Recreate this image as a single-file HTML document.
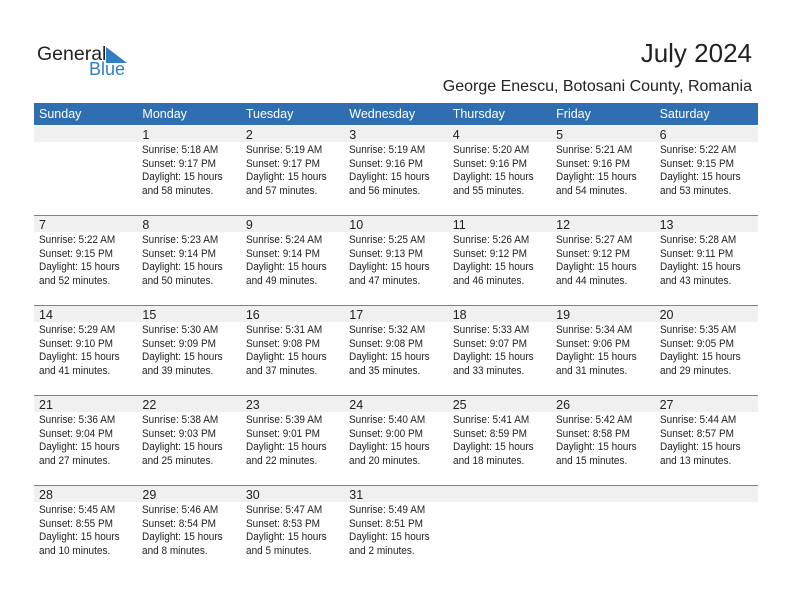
<!DOCTYPE html>
<html><head><meta charset="utf-8"><style>
body{margin:0;width:792px;height:612px;background:#fff;font-family:"Liberation Sans",sans-serif;position:relative;overflow:hidden}
.a{position:absolute}
.hdr{left:34px;top:103px;width:724px;height:22px;background:#2f6fb1}
.dn{color:#fff;font-size:12.5px;top:107px}
.strip{left:34px;width:724px;height:16px;background:#f0f0f0}
.line{left:34px;width:724px;height:1px;background:#6b86a8}
.cell{font-size:11px;line-height:13.5px;color:#222;width:110px;transform:scaleX(0.91);transform-origin:0 0;white-space:nowrap}
.num{font-size:12.5px;color:#222}
</style></head><body>
<div class="a" style="left:37px;top:43px;font-size:19.5px;color:#222">General</div>
<div class="a" style="left:89px;top:59px;font-size:18px;color:#2f7fc2">Blue</div>
<svg class="a" style="left:106px;top:47px" width="22" height="18"><polygon points="0,0 0,16 21,16" fill="#2f7fc2"/></svg>
<div class="a" style="right:40px;top:38px;font-size:26px;color:#222">July 2024</div>
<div class="a" style="right:40px;top:78px;font-size:16px;color:#222">George Enescu, Botosani County, Romania</div>
<div class="a hdr"></div>
<div id="g"></div>
<script>
var days=["Sunday","Monday","Tuesday","Wednesday","Thursday","Friday","Saturday"];
var d=[["5:18 AM","9:17 PM","58"],["5:19 AM","9:17 PM","57"],["5:19 AM","9:16 PM","56"],["5:20 AM","9:16 PM","55"],["5:21 AM","9:16 PM","54"],["5:22 AM","9:15 PM","53"],["5:22 AM","9:15 PM","52"],["5:23 AM","9:14 PM","50"],["5:24 AM","9:14 PM","49"],["5:25 AM","9:13 PM","47"],["5:26 AM","9:12 PM","46"],["5:27 AM","9:12 PM","44"],["5:28 AM","9:11 PM","43"],["5:29 AM","9:10 PM","41"],["5:30 AM","9:09 PM","39"],["5:31 AM","9:08 PM","37"],["5:32 AM","9:08 PM","35"],["5:33 AM","9:07 PM","33"],["5:34 AM","9:06 PM","31"],["5:35 AM","9:05 PM","29"],["5:36 AM","9:04 PM","27"],["5:38 AM","9:03 PM","25"],["5:39 AM","9:01 PM","22"],["5:40 AM","9:00 PM","20"],["5:41 AM","8:59 PM","18"],["5:42 AM","8:58 PM","15"],["5:44 AM","8:57 PM","13"],["5:45 AM","8:55 PM","10"],["5:46 AM","8:54 PM","8"],["5:47 AM","8:53 PM","5"],["5:49 AM","8:51 PM","2"]];
var h="",cw=103.43;
days.forEach(function(n,i){h+='<div class="a dn" style="left:'+(39+i*cw)+'px">'+n+'</div>';});
for(var w=0;w<5;w++){var t=126+w*90;h+='<div class="a strip" style="top:'+t+'px"></div>';if(w>0)h+='<div class="a line" style="top:'+(t-1)+'px"></div>';}
for(var k=0;k<31;k++){var p=k+1,w=Math.floor(p/7),c=p%7,x=39+c*cw,t=126+w*90;
h+='<div class="a num" style="left:'+x+'px;top:'+(t+2)+'px">'+(k+1)+'</div>';
h+='<div class="a cell" style="left:'+x+'px;top:'+(t+18)+'px">Sunrise: '+d[k][0]+'<br>Sunset: '+d[k][1]+'<br>Daylight: 15 hours<br>and '+d[k][2]+' minutes.</div>';}
document.getElementById("g").innerHTML=h;
</script>
</body></html>
